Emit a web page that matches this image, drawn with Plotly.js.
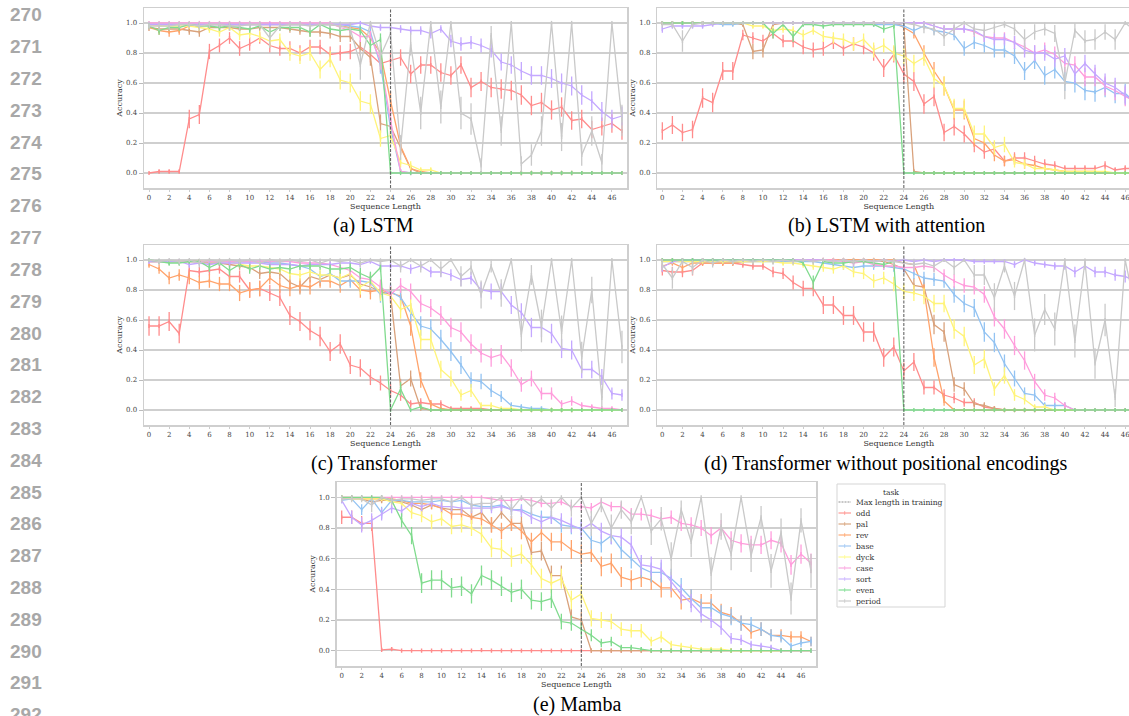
<!DOCTYPE html>
<html>
<head>
<meta charset="utf-8">
<script src="https://cdn.plot.ly/plotly-3.0.1.min.js"></script>
<style>
html,body{margin:0;padding:0;overflow:hidden;background:#fff;}
#chart{width:1145px;height:716px;}
</style>
</head>
<body>
<div id="chart"></div>
<script>
// ---------------- DATA ----------------
const seqLen = [0,1,2,3,4,5,6,7,8,9,10,11,12,13,14,15,16,17,18,19,20,21,22,23,24,25,26,27,28,29,30,31,32,33,34,35,36,37,38,39,40,41,42,43,44,45,46,47];
const xTickVals = [0,2,4,6,8,10,12,14,16,18,20,22,24,26,28,30,32,34,36,38,40,42,44,46];
const yTickVals = [0,0.2,0.4,0.6,0.8,1.0];
const maxTrainLen = 24;
const tasks = ['odd','pal','rev','base','dyck','case','sort','even','period'];
const taskColors = ['#ff8c8c','#d9a27c','#ffa36b','#93c3f2','#fff47a','#ff9ddc','#c4a8ff','#80db8e','#c9c9c9'];
const legendTaskColors = ['#ff9f9b','#dcae8a','#ffb07f','#a9cdf5','#fffc9c','#fbb0e4','#cfbcff','#8fe2a0','#cfcfcf'];
const captions = ['(a) LSTM','(b) LSTM with attention','(c) Transformer','(d) Transformer without positional encodings','(e) Mamba'];
const lineNumbers = [270,271,272,273,274,275,276,277,278,279,280,281,282,283,284,285,286,287,288,289,290,291,292];

// (a) LSTM
const lstm_odd    = [0.00,0.01,0.01,0.01,0.36,0.39,0.81,0.85,0.90,0.83,0.86,0.90,0.85,0.83,0.83,0.80,0.84,0.84,0.79,0.80,0.81,0.84,0.79,0.73,0.75,0.77,0.66,0.72,0.72,0.67,0.65,0.72,0.57,0.61,0.57,0.56,0.55,0.52,0.45,0.47,0.42,0.44,0.35,0.36,0.29,0.31,0.33,0.28];
const lstm_pal    = [0.97,0.96,0.96,0.96,0.95,0.94,0.97,0.97,0.97,0.96,0.96,0.97,0.97,0.97,0.96,0.95,0.94,0.94,0.93,0.91,0.91,0.83,0.77,0.33,0.31,0.17,0.03,0.00,0.00,0.00,0.00,0.00,0.00,0.00,0.00,0.00,0.00,0.00,0.00,0.00,0.00,0.00,0.00,0.00,0.00,0.00,0.00,0.00];
const lstm_rev    = [0.97,0.95,0.94,0.95,0.98,0.98,0.99,0.99,0.99,0.99,0.99,0.99,0.99,0.99,0.99,0.99,0.99,0.99,0.99,0.98,0.97,0.96,0.90,0.80,0.48,0.18,0.03,0.01,0.00,0.00,0.00,0.00,0.00,0.00,0.00,0.00,0.00,0.00,0.00,0.00,0.00,0.00,0.00,0.00,0.00,0.00,0.00,0.00];
const lstm_base   = [0.99,0.99,0.99,0.99,0.99,0.99,0.99,0.99,0.99,0.99,0.99,0.99,0.99,0.99,0.99,0.99,0.99,0.99,0.99,0.99,0.98,0.97,0.94,0.72,0.30,0.01,0.00,0.00,0.00,0.00,0.00,0.00,0.00,0.00,0.00,0.00,0.00,0.00,0.00,0.00,0.00,0.00,0.00,0.00,0.00,0.00,0.00,0.00];
const lstm_dyck   = [0.99,0.98,0.98,0.98,0.98,0.97,0.96,0.94,0.97,0.92,0.93,0.91,0.88,0.89,0.80,0.78,0.80,0.69,0.76,0.62,0.60,0.48,0.46,0.23,0.25,0.07,0.05,0.02,0.02,0.00,0.00,0.00,0.00,0.00,0.00,0.00,0.00,0.00,0.00,0.00,0.00,0.00,0.00,0.00,0.00,0.00,0.00,0.00];
const lstm_case   = [1.00,1.00,1.00,1.00,1.00,1.00,1.00,1.00,1.00,1.00,1.00,1.00,1.00,1.00,1.00,1.00,1.00,1.00,1.00,0.97,0.95,0.91,0.91,0.75,0.35,0.01,0.00,0.00,0.00,0.00,0.00,0.00,0.00,0.00,0.00,0.00,0.00,0.00,0.00,0.00,0.00,0.00,0.00,0.00,0.00,0.00,0.00,0.00];
const lstm_sort   = [0.99,0.99,0.99,0.99,0.99,0.99,0.99,0.99,0.99,0.99,0.99,0.99,0.99,0.99,0.99,0.99,0.99,0.99,0.99,0.99,0.99,1.00,0.98,0.97,0.97,0.96,0.95,0.95,0.93,0.96,0.88,0.86,0.87,0.85,0.82,0.74,0.72,0.68,0.65,0.65,0.63,0.60,0.58,0.52,0.48,0.41,0.36,0.38];
const lstm_even   = [0.98,0.95,0.97,0.97,0.99,0.98,0.98,0.97,0.98,0.97,0.96,0.98,0.94,0.97,0.97,0.97,0.94,0.99,0.96,0.95,0.96,0.95,0.85,0.89,0.00,0.00,0.00,0.00,0.00,0.00,0.00,0.00,0.00,0.00,0.00,0.00,0.00,0.00,0.00,0.00,0.00,0.00,0.00,0.00,0.00,0.00,0.00,0.00];
const lstm_period = [0.98,0.98,0.98,0.99,0.99,0.98,0.99,0.99,0.98,0.98,0.99,0.99,0.90,0.98,0.99,0.99,0.98,0.99,0.99,0.98,0.96,0.72,1.00,0.78,0.93,0.17,0.86,0.40,1.00,0.44,1.00,0.40,0.36,0.05,0.92,0.28,1.00,0.06,0.12,0.28,1.00,0.24,1.00,0.12,0.28,0.07,1.00,0.35];

// (b) LSTM with attention
const attn_odd    = [0.28,0.32,0.27,0.29,0.50,0.47,0.68,0.68,0.92,0.90,0.88,0.93,0.88,0.88,0.84,0.82,0.83,0.87,0.83,0.86,0.84,0.80,0.70,0.79,0.66,0.61,0.46,0.51,0.27,0.31,0.26,0.19,0.14,0.16,0.08,0.10,0.10,0.08,0.06,0.05,0.03,0.03,0.03,0.03,0.05,0.02,0.03,0.03];
const attn_pal    = [1.00,1.00,1.00,1.00,1.00,1.00,1.00,1.00,0.99,0.81,0.82,0.99,1.00,1.00,1.00,1.00,1.00,1.00,1.00,1.00,1.00,1.00,1.00,1.00,0.98,0.01,0.00,0.00,0.00,0.00,0.00,0.00,0.00,0.00,0.00,0.00,0.00,0.00,0.00,0.00,0.00,0.00,0.00,0.00,0.00,0.00,0.00,0.00];
const attn_rev    = [1.00,1.00,1.00,1.00,1.00,1.00,1.00,1.00,1.00,1.00,1.00,1.00,1.00,1.00,1.00,1.00,1.00,1.00,1.00,1.00,1.00,1.00,1.00,1.00,0.97,0.93,0.80,0.68,0.58,0.42,0.42,0.23,0.20,0.12,0.08,0.09,0.06,0.05,0.03,0.02,0.01,0.01,0.01,0.01,0.00,0.00,0.00,0.00];
const attn_base   = [1.00,1.00,1.00,1.00,1.00,1.00,0.99,0.99,1.00,1.00,1.00,1.00,1.00,1.00,1.00,1.00,1.00,1.00,1.00,1.00,1.00,0.99,0.99,0.99,0.98,0.95,0.98,0.95,0.94,0.92,0.83,0.87,0.85,0.82,0.82,0.78,0.68,0.75,0.65,0.69,0.61,0.60,0.55,0.54,0.57,0.53,0.53,0.47];
const attn_dyck   = [1.00,1.00,1.00,1.00,1.00,1.00,1.00,1.00,1.00,0.98,0.98,0.95,0.96,0.95,0.92,0.95,0.91,0.90,0.89,0.86,0.89,0.82,0.85,0.80,0.78,0.73,0.77,0.63,0.58,0.43,0.43,0.26,0.26,0.17,0.19,0.07,0.06,0.03,0.03,0.02,0.01,0.01,0.01,0.01,0.01,0.00,0.00,0.00];
const attn_case   = [1.00,1.00,1.00,1.00,1.00,1.00,1.00,1.00,1.00,1.00,1.00,1.00,1.00,1.00,1.00,1.00,1.00,1.00,1.00,1.00,1.00,1.00,1.00,1.00,1.00,1.00,1.00,0.98,0.96,0.96,0.96,0.94,0.91,0.90,0.90,0.87,0.84,0.80,0.82,0.79,0.73,0.72,0.64,0.64,0.58,0.55,0.51,0.48];
const attn_sort   = [0.96,0.98,0.98,0.98,0.98,0.99,1.00,1.00,1.00,1.00,1.00,1.00,1.00,1.00,1.00,1.00,1.00,1.00,1.00,1.00,1.00,1.00,1.00,1.00,1.00,1.00,1.00,0.98,0.96,0.96,0.96,0.95,0.91,0.89,0.89,0.87,0.82,0.80,0.80,0.76,0.78,0.66,0.73,0.66,0.60,0.57,0.52,0.47];
const attn_even   = [1.00,1.00,1.00,1.00,1.00,1.00,1.00,1.00,1.00,1.00,1.00,0.93,0.99,0.91,0.99,0.99,0.98,0.99,0.99,0.99,0.99,0.99,0.96,0.98,0.00,0.00,0.00,0.00,0.00,0.00,0.00,0.00,0.00,0.00,0.00,0.00,0.00,0.00,0.00,0.00,0.00,0.00,0.00,0.00,0.00,0.00,0.00,0.00];
const attn_period = [0.99,0.99,0.88,0.99,1.00,1.00,1.00,1.00,1.00,1.00,1.00,1.00,1.00,1.00,1.00,1.00,1.00,1.00,1.00,1.00,1.00,1.00,1.00,1.00,1.00,0.99,0.97,0.96,0.91,0.96,1.00,0.96,0.95,0.97,0.99,0.96,0.89,0.94,0.96,0.93,0.60,0.95,0.88,0.89,0.94,0.89,1.00,0.95];

// (c) Transformer
const tf_odd    = [0.56,0.56,0.59,0.51,0.93,0.92,0.93,0.94,0.89,0.89,0.80,0.81,0.78,0.75,0.63,0.59,0.53,0.49,0.39,0.44,0.30,0.28,0.22,0.18,0.13,0.10,0.04,0.05,0.04,0.04,0.01,0.01,0.01,0.01,0.00,0.00,0.00,0.00,0.00,0.00,0.00,0.00,0.00,0.00,0.00,0.00,0.00,0.00];
const tf_pal    = [0.99,0.99,0.99,0.99,0.99,0.99,0.98,0.98,0.97,0.96,0.95,0.91,0.92,0.91,0.85,0.82,0.89,0.87,0.90,0.88,0.90,0.84,0.82,0.79,0.77,0.16,0.21,0.01,0.00,0.00,0.00,0.00,0.00,0.00,0.00,0.00,0.00,0.00,0.00,0.00,0.00,0.00,0.00,0.00,0.00,0.00,0.00,0.00];
const tf_rev    = [0.97,0.94,0.88,0.90,0.88,0.85,0.86,0.84,0.84,0.78,0.80,0.81,0.88,0.83,0.81,0.83,0.82,0.86,0.86,0.83,0.87,0.80,0.79,0.80,0.78,0.76,0.56,0.20,0.04,0.01,0.00,0.00,0.00,0.00,0.00,0.00,0.00,0.00,0.00,0.00,0.00,0.00,0.00,0.00,0.00,0.00,0.00,0.00];
const tf_base   = [0.99,0.99,0.99,0.99,0.99,0.99,0.99,0.99,0.99,0.99,0.99,0.99,0.98,0.98,0.97,0.96,0.94,0.89,0.91,0.86,0.86,0.86,0.85,0.77,0.79,0.75,0.65,0.56,0.54,0.47,0.39,0.30,0.20,0.19,0.13,0.09,0.03,0.02,0.01,0.01,0.00,0.00,0.00,0.00,0.00,0.00,0.00,0.00];
const tf_dyck   = [0.99,0.99,0.99,0.99,0.99,0.99,0.99,0.99,0.99,0.97,0.96,0.96,0.95,0.94,0.91,0.90,0.92,0.90,0.90,0.88,0.91,0.82,0.86,0.78,0.76,0.67,0.70,0.47,0.47,0.27,0.21,0.10,0.13,0.03,0.03,0.01,0.01,0.00,0.00,0.00,0.00,0.00,0.00,0.00,0.00,0.00,0.00,0.00];
const tf_case   = [0.99,0.99,0.99,0.99,0.99,0.99,0.99,0.99,0.99,0.99,0.99,0.99,0.99,0.99,0.99,0.98,0.98,0.98,0.97,0.95,0.93,0.88,0.87,0.82,0.77,0.83,0.79,0.71,0.68,0.63,0.55,0.52,0.44,0.38,0.35,0.37,0.28,0.17,0.21,0.11,0.11,0.04,0.06,0.03,0.02,0.01,0.01,0.00];
const tf_sort   = [0.99,0.99,0.99,0.99,0.97,0.98,0.97,0.98,0.98,0.98,0.98,0.98,0.97,0.97,0.97,0.96,0.97,0.97,0.97,0.98,0.98,0.97,0.99,0.96,0.96,0.96,0.94,0.96,0.92,0.92,0.90,0.87,0.88,0.80,0.79,0.79,0.70,0.65,0.55,0.55,0.51,0.41,0.40,0.27,0.27,0.22,0.11,0.10];
const tf_even   = [1.00,0.99,0.98,0.98,0.99,0.99,0.95,0.98,0.93,0.97,0.94,0.96,0.94,0.95,0.94,0.96,0.96,0.96,0.94,0.94,0.95,0.91,0.88,0.95,0.00,0.14,0.00,0.02,0.00,0.00,0.00,0.00,0.00,0.00,0.00,0.00,0.00,0.00,0.00,0.00,0.00,0.00,0.00,0.00,0.00,0.00,0.00,0.00];
const tf_period = [1.00,0.99,1.00,0.99,1.00,0.98,1.00,0.99,1.00,0.99,1.00,0.98,1.00,0.99,1.00,0.99,1.00,0.98,1.00,0.99,1.00,0.98,1.00,0.99,1.00,0.96,1.00,0.96,1.00,0.94,1.00,0.89,0.95,0.77,0.96,0.78,1.00,0.50,0.90,0.56,1.00,0.52,1.00,0.35,0.80,0.08,1.00,0.42];

// (d) Transformer without positional encodings
const nope_odd    = [0.93,0.92,0.92,0.93,0.98,0.98,0.98,0.98,0.97,0.96,0.96,0.92,0.91,0.85,0.81,0.81,0.70,0.70,0.63,0.63,0.52,0.52,0.35,0.42,0.26,0.32,0.15,0.15,0.10,0.08,0.05,0.05,0.02,0.01,0.00,0.00,0.00,0.00,0.00,0.00,0.00,0.00,0.00,0.00,0.00,0.00,0.00,0.00];
const nope_pal    = [1.00,1.00,1.00,1.00,1.00,1.00,1.00,1.00,1.00,1.00,1.00,1.00,1.00,1.00,1.00,1.00,1.00,1.00,1.00,1.00,1.00,1.00,0.99,0.97,0.94,0.83,0.82,0.57,0.52,0.17,0.14,0.04,0.03,0.01,0.00,0.00,0.00,0.00,0.00,0.00,0.00,0.00,0.00,0.00,0.00,0.00,0.00,0.00];
const nope_rev    = [0.96,0.98,0.95,0.98,0.98,0.98,0.98,0.98,0.99,0.99,1.00,1.00,1.00,1.00,1.00,1.00,1.00,1.00,1.00,1.00,1.00,1.00,1.00,1.00,0.98,0.97,0.80,0.35,0.06,0.00,0.00,0.00,0.00,0.00,0.00,0.00,0.00,0.00,0.00,0.00,0.00,0.00,0.00,0.00,0.00,0.00,0.00,0.00];
const nope_base   = [0.99,0.99,0.99,0.99,0.99,0.99,0.99,0.99,0.99,0.99,0.99,0.99,0.99,0.99,0.99,0.99,0.98,0.97,0.96,0.95,0.96,0.96,0.96,0.95,0.94,0.91,0.88,0.87,0.86,0.77,0.71,0.68,0.52,0.45,0.31,0.21,0.11,0.10,0.03,0.03,0.03,0.00,0.00,0.00,0.00,0.00,0.00,0.00];
const nope_dyck   = [0.99,0.99,0.99,0.99,0.99,0.99,0.99,0.99,0.99,0.99,0.99,0.99,0.98,0.98,0.97,0.96,0.95,0.94,0.96,0.92,0.91,0.86,0.88,0.84,0.79,0.78,0.76,0.71,0.71,0.54,0.49,0.30,0.34,0.14,0.23,0.10,0.07,0.02,0.02,0.00,0.00,0.00,0.00,0.00,0.00,0.00,0.00,0.00];
const nope_case   = [1.00,1.00,1.00,1.00,1.00,1.00,1.00,1.00,1.00,1.00,1.00,1.00,1.00,1.00,1.00,1.00,1.00,1.00,0.99,0.98,0.99,0.97,0.96,0.96,0.95,0.95,0.96,0.95,0.90,0.86,0.83,0.82,0.77,0.62,0.54,0.43,0.33,0.19,0.10,0.08,0.03,0.00,0.00,0.00,0.00,0.00,0.00,0.00];
const nope_sort   = [0.95,0.99,1.00,1.00,1.00,1.00,1.00,1.00,1.00,1.00,1.00,1.00,1.00,1.00,1.00,1.00,1.00,0.99,1.00,0.99,1.00,0.99,1.00,0.99,1.00,0.99,1.00,0.99,1.00,1.00,1.00,0.99,0.99,0.99,0.99,0.97,1.00,0.98,0.97,0.96,0.96,0.92,0.96,0.92,0.92,0.90,0.89,0.86];
const nope_even   = [1.00,1.00,1.00,1.00,1.00,1.00,1.00,1.00,1.00,1.00,1.00,1.00,1.00,1.00,0.98,0.85,0.99,0.98,0.98,0.99,0.99,0.98,0.97,0.99,0.00,0.00,0.00,0.00,0.00,0.00,0.00,0.00,0.00,0.00,0.00,0.00,0.00,0.00,0.00,0.00,0.00,0.00,0.00,0.00,0.00,0.00,0.00,0.00];
const nope_period = [0.97,0.88,0.99,0.95,1.00,0.98,1.00,0.99,1.00,0.99,1.00,0.99,1.00,0.99,1.00,0.99,1.00,0.99,1.00,0.99,1.00,0.99,1.00,0.99,0.98,0.97,0.98,0.96,1.00,0.95,1.00,0.90,0.90,0.75,0.96,0.76,1.00,0.50,0.67,0.54,1.00,0.46,0.99,0.31,0.60,0.08,1.00,0.68];

// (e) Mamba
const mamba_odd    = [0.87,0.87,0.83,0.83,0.005,0.01,0.00,0.00,0.00,0.00,0.00,0.00,0.00,0.00,0.003,0.00,0.00,0.00,0.00,0.00,0.00,0.00,0.00,0.00,0.00,0.00,0.00,0.00,0.00,0.00,0.00,0.00,0.00,0.00,0.00,0.00,0.00,0.00,0.00,0.00,0.00,0.00,0.00,0.00,0.00,0.00,0.00,0.00];
const mamba_pal    = [1.00,1.00,0.99,0.97,0.98,0.98,0.97,0.95,0.92,0.95,0.93,0.92,0.92,0.87,0.90,0.82,0.90,0.83,0.83,0.64,0.65,0.49,0.49,0.22,0.20,0.00,0.00,0.00,0.00,0.00,0.00,0.00,0.00,0.00,0.00,0.00,0.00,0.00,0.00,0.00,0.00,0.00,0.00,0.00,0.00,0.00,0.00,0.00];
const mamba_rev    = [0.99,0.99,0.99,0.99,0.99,0.99,0.98,0.96,0.96,0.95,0.93,0.89,0.89,0.87,0.86,0.82,0.78,0.83,0.78,0.71,0.77,0.71,0.71,0.66,0.63,0.64,0.55,0.57,0.48,0.46,0.48,0.46,0.41,0.41,0.33,0.34,0.31,0.31,0.25,0.23,0.18,0.12,0.14,0.10,0.10,0.09,0.09,0.06];
const mamba_base   = [0.98,0.99,0.92,0.99,0.90,0.98,0.98,0.97,0.97,0.97,0.98,0.97,0.98,0.95,0.94,0.94,0.95,0.92,0.92,0.89,0.87,0.87,0.82,0.81,0.80,0.72,0.70,0.75,0.66,0.60,0.54,0.51,0.51,0.47,0.41,0.34,0.28,0.28,0.24,0.22,0.18,0.17,0.14,0.10,0.09,0.03,0.05,0.06];
const mamba_dyck   = [1.00,0.99,0.99,0.99,0.99,0.97,0.96,0.90,0.88,0.84,0.86,0.81,0.82,0.80,0.76,0.67,0.66,0.61,0.63,0.56,0.47,0.44,0.47,0.33,0.37,0.21,0.20,0.19,0.14,0.13,0.13,0.06,0.09,0.04,0.03,0.02,0.01,0.01,0.01,0.00,0.00,0.00,0.00,0.00,0.00,0.00,0.00,0.00];
const mamba_case   = [1.00,1.00,1.00,1.00,1.00,1.00,1.00,1.00,1.00,1.00,1.00,1.00,1.00,1.00,1.00,0.99,0.98,0.98,0.99,0.98,0.96,0.96,0.97,0.94,0.94,0.93,0.97,0.94,0.94,0.89,0.89,0.88,0.86,0.87,0.83,0.82,0.80,0.75,0.80,0.72,0.70,0.69,0.69,0.72,0.70,0.56,0.63,0.57];
const mamba_sort   = [0.98,0.87,0.82,0.85,0.89,0.93,0.91,0.96,0.94,0.96,0.94,0.94,0.93,0.93,0.93,0.93,0.94,0.92,0.91,0.87,0.84,0.87,0.85,0.82,0.79,0.83,0.78,0.75,0.74,0.69,0.56,0.55,0.53,0.45,0.37,0.31,0.24,0.20,0.15,0.08,0.07,0.04,0.03,0.02,0.00,0.00,0.00,0.00];
const mamba_even   = [1.00,1.00,1.00,1.00,1.00,0.98,0.85,0.75,0.44,0.46,0.46,0.41,0.42,0.37,0.49,0.46,0.42,0.38,0.40,0.33,0.32,0.34,0.19,0.18,0.14,0.10,0.05,0.06,0.02,0.02,0.01,0.00,0.00,0.00,0.00,0.00,0.00,0.00,0.00,0.00,0.00,0.00,0.00,0.00,0.00,0.00,0.00,0.00];
const mamba_period = [0.99,0.99,0.99,0.95,1.00,0.98,0.99,0.99,0.98,0.99,0.99,0.97,1.00,0.95,0.96,0.96,1.00,0.92,1.00,0.94,0.99,0.93,1.00,0.93,1.00,0.83,0.95,0.80,0.92,0.84,1.00,0.78,0.86,0.60,0.92,0.71,1.00,0.50,0.81,0.63,1.00,0.62,0.87,0.52,0.77,0.34,0.85,0.52];

const panels = [
  [lstm_odd,lstm_pal,lstm_rev,lstm_base,lstm_dyck,lstm_case,lstm_sort,lstm_even,lstm_period],
  [attn_odd,attn_pal,attn_rev,attn_base,attn_dyck,attn_case,attn_sort,attn_even,attn_period],
  [tf_odd,tf_pal,tf_rev,tf_base,tf_dyck,tf_case,tf_sort,tf_even,tf_period],
  [nope_odd,nope_pal,nope_rev,nope_base,nope_dyck,nope_case,nope_sort,nope_even,nope_period],
  [mamba_odd,mamba_pal,mamba_rev,mamba_base,mamba_dyck,mamba_case,mamba_sort,mamba_even,mamba_period]
];

// ---------------- LAYOUT ----------------
const W = 1145, H = 716;
const px = v => v / W;
const py = v => 1 - v / H;
// plot boxes in pixels: [left, right, top, bottom]
const boxes = [
  [144, 627, 8, 188],
  [657.3, 1140.3, 8, 188],
  [144, 627, 245, 425],
  [657.3, 1140.3, 245, 425],
  [336.7, 816, 482, 666]
];
const captionPos = [[374,226],[886,226],[374,463],[886,463],[577,704]];

const tickFont = {family:'DejaVu Serif', size:7, color:'#444'};
const titleFont = {family:'DejaVu Serif', size:8, color:'#333'};

const data = [];
const layout = {
  width: W, height: H,
  margin: {l:0, r:0, t:0, b:0},
  paper_bgcolor: '#fff', plot_bgcolor: '#fff',
  showlegend: false,
  shapes: [], annotations: []
};

function errOf(arr, k){ return arr.map(p => k*Math.sqrt(Math.max(p*(1-p),0))); }

panels.forEach((series, pi) => {
  const n = pi === 0 ? '' : String(pi+1);
  const b = boxes[pi];
  layout['xaxis'+n] = {
    domain: [px(b[0]), px(b[1])], anchor: 'y'+n,
    range: [-0.5, 47.5], tickvals: xTickVals, ticktext: xTickVals.map(String),
    tickfont: tickFont, ticks: 'outside', ticklen: 2, tickcolor: '#ccc', tickwidth: 1,
    showline: true, mirror: true, linecolor: '#cfcfcf', linewidth: 1.5,
    showgrid: false, zeroline: false,
    title: {text: 'Sequence Length', font: titleFont, standoff: 1}
  };
  layout['yaxis'+n] = {
    domain: [py(b[3]), py(b[2])], anchor: 'x'+n,
    range: [-0.1, 1.1], tickvals: yTickVals, tickformat: '.1f',
    tickfont: tickFont, ticks: 'outside', ticklen: 4, tickcolor: '#bbb', tickwidth: 1,
    showline: true, mirror: true, linecolor: '#cfcfcf', linewidth: 1.5,
    showgrid: true, gridcolor: '#cfcfcf', gridwidth: 1.3, zeroline: false,
    title: {text: 'Accuracy', font: titleFont, standoff: 2}
  };
  series.forEach((vals, ti) => {
    const k = tasks[ti] === 'period' ? 0.22 : 0.13;
    data.push({
      type: 'scatter', mode: 'lines+markers', name: tasks[ti],
      x: seqLen, y: vals, xaxis: 'x'+n, yaxis: 'y'+n,
      line: {color: taskColors[ti], width: 1.3},
      marker: {symbol: 'line-ns', size: 3, line: {color: taskColors[ti], width: 1.4}},
      error_y: {type: 'data', array: errOf(vals, k), visible: true, color: taskColors[ti], thickness: 1.3, width: 0},
      hoverinfo: 'skip'
    });
  });
  layout.shapes.push({
    type: 'line', xref: 'x'+n, yref: 'y'+n+' domain', x0: maxTrainLen, x1: maxTrainLen, y0: 0, y1: 1,
    line: {color: '#666', width: 1.1, dash: '3px,1.5px'}
  });
  layout.annotations.push({
    xref: 'paper', yref: 'paper', x: px(captionPos[pi][0]), y: py(captionPos[pi][1]),
    text: captions[pi], showarrow: false, xanchor: 'center', yanchor: 'middle',
    font: {family: 'Liberation Serif', size: 20, color: '#000'}
  });
});

// manual legend for panel (e)
const lg = {l: 837, r: 945, t: 484, b: 607};
layout.shapes.push({type:'rect', xref:'paper', yref:'paper', x0:px(lg.l), x1:px(lg.r), y0:py(lg.b), y1:py(lg.t),
  line:{color:'#d5d5d5', width:1}, fillcolor:'#fff', layer:'above'});
layout.annotations.push({xref:'paper', yref:'paper', x:px(891), y:py(492), text:'task', showarrow:false,
  xanchor:'center', yanchor:'middle', font:{family:'DejaVu Serif', size:7.5, color:'#333'}});
const legendLabels = ['Max length in training'].concat(tasks);
const legendColors = ['#b5b5b5'].concat(legendTaskColors);
legendLabels.forEach((lab, i) => {
  const yy = 502 + i*11;
  layout.shapes.push({type:'line', xref:'paper', yref:'paper', x0:px(838.5), x1:px(851), y0:py(yy), y1:py(yy),
    line:{color: legendColors[i], width: 1.3, dash: i === 0 ? '2px,1px' : 'solid'}, layer:'above'});
  if (i > 0) layout.shapes.push({type:'line', xref:'paper', yref:'paper', x0:px(844.7), x1:px(844.7), y0:py(yy-1.8), y1:py(yy+1.8),
    line:{color: legendColors[i], width: 1}, layer:'above'});
  layout.annotations.push({xref:'paper', yref:'paper', x:px(854), y:py(yy), text: lab, showarrow:false,
    xanchor:'left', yanchor:'middle', font:{family:'DejaVu Serif', size:7.6, color:'#333'}});
});

// page line numbers
lineNumbers.forEach((num, i) => {
  layout.annotations.push({xref:'paper', yref:'paper', x:px(26), y:py(15 + i*31.8), text: String(num),
    showarrow:false, xanchor:'center', yanchor:'middle',
    font:{family:'Liberation Sans', size:19, color:'#a8a8a8', weight:'bold'}});
});

Plotly.newPlot('chart', data, layout, {staticPlot: true, displayModeBar: false});
</script>
</body>
</html>
